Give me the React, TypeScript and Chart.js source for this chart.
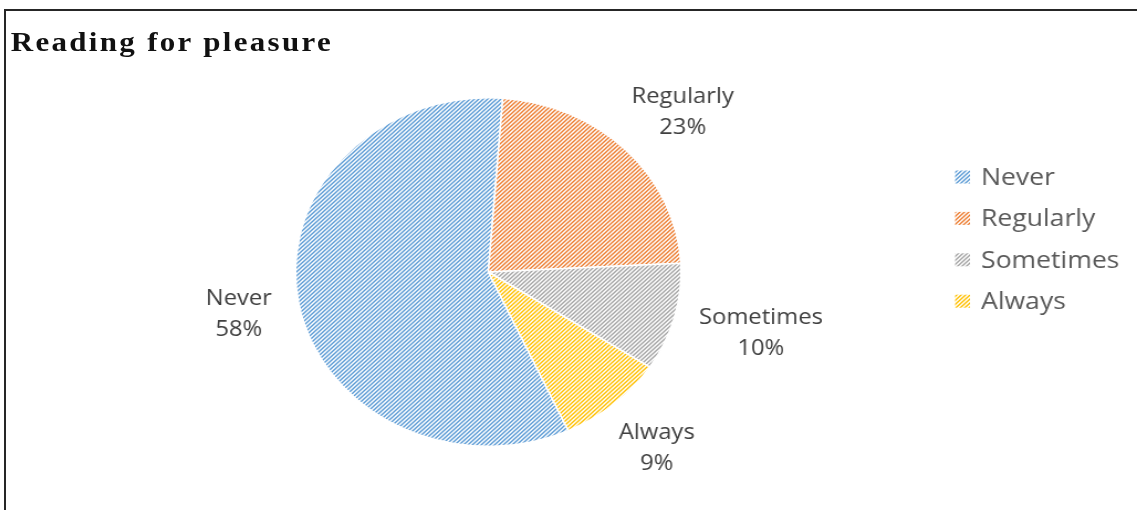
import React, { useEffect, useRef } from "react";
import { Chart, registerables } from "chart.js";

Chart.register(...registerables);

// ---- data ----
const chartTitle = "Reading for pleasure";
const categories = ["Never", "Regularly", "Sometimes", "Always"];
const percentages = [58, 23, 10, 9];
const seriesColors = ["#5B9BD5", "#ED7D31", "#A5A5A5", "#FFC000"];

// ---- layout (internal canvas units; the whole picture is stretched horizontally) ----
const PAGE_W = 1137;
const PAGE_H = 510;
const W = 1028;
const H = 510;
const STRETCH = PAGE_W / W;

function makeHatch(color: string): CanvasPattern | string {
  const tile = document.createElement("canvas");
  tile.width = 4;
  tile.height = 4;
  const c = tile.getContext("2d");
  if (!c) return color;
  c.fillStyle = "#ffffff";
  c.fillRect(0, 0, 4, 4);
  c.strokeStyle = color;
  c.lineWidth = 1.4;
  c.beginPath();
  c.moveTo(-1, 5);
  c.lineTo(5, -1);
  c.moveTo(-1, 1);
  c.lineTo(1, -1);
  c.moveTo(3, 5);
  c.lineTo(5, 3);
  c.stroke();
  const host = document.createElement("canvas").getContext("2d");
  const p = host ? host.createPattern(tile, "repeat") : null;
  return p || color;
}

export default function App() {
  const canvasRef = useRef<HTMLCanvasElement | null>(null);

  useEffect(() => {
    document.body.style.margin = "0";
    const canvas = canvasRef.current;
    if (!canvas) return;
    const patterns = seriesColors.map((c) => makeHatch(c));

    const labelPlugin = {
      id: "outsideLabels",
      afterDatasetsDraw(chart: any) {
        const ctx = chart.ctx as CanvasRenderingContext2D;
        const meta = chart.getDatasetMeta(0);
        const data = chart.data.datasets[0].data as number[];
        const total = data.reduce((a, b) => a + b, 0);
        ctx.save();
        ctx.font = '21.5px "Open Sans"';
        ctx.fillStyle = "#404040";
        ctx.textAlign = "center";
        ctx.textBaseline = "alphabetic";
        const pad = 25;
        const lh = 31;
        meta.data.forEach((arc: any, i: number) => {
          const { x, y, startAngle, endAngle, outerRadius } = arc.getProps(
            ["x", "y", "startAngle", "endAngle", "outerRadius"],
            true
          );
          const mid = (startAngle + endAngle) / 2;
          const cos = Math.cos(mid);
          const sin = Math.sin(mid);
          const lines = [
            String(chart.data.labels[i]),
            Math.round((data[i] / total) * 100) + "%",
          ];
          const w = Math.max(...lines.map((l) => ctx.measureText(l).width));
          const h = lh * 2;
          const cx = x + (outerRadius + pad) * cos + (w / 2) * cos;
          const cy = y + (outerRadius + pad) * sin + (h / 2) * sin;
          lines.forEach((l, k) => {
            ctx.fillText(l, cx, cy + (k - 0.5) * lh + 7.7);
          });
        });
        ctx.restore();
      },
    };

    const legendPlugin = {
      id: "sideLegend",
      afterDraw(chart: any) {
        const ctx = chart.ctx as CanvasRenderingContext2D;
        const ds = chart.data.datasets[0];
        ctx.save();
        ctx.font = '24px "Open Sans"';
        ctx.textAlign = "left";
        ctx.textBaseline = "alphabetic";
        const boxX = 863.5;
        const textX = 887;
        const base0 = 185;
        const step = 41.4;
        (chart.data.labels as string[]).forEach((lab, i) => {
          const by = base0 + i * step;
          ctx.fillStyle = ds.backgroundColor[i];
          ctx.fillRect(boxX, by - 14.5, 13.5, 13);
          ctx.fillStyle = "#595959";
          ctx.fillText(lab, textX, by);
        });
        ctx.restore();
      },
    };

    const chart = new Chart(canvas, {
      type: "pie",
      data: {
        labels: categories,
        datasets: [
          {
            data: percentages,
            backgroundColor: patterns as any,
            borderColor: "#ffffff",
            borderWidth: 1.5,
          },
        ],
      },
      options: {
        responsive: false,
        animation: false,
        rotation: 155.5,
        layout: { padding: { left: 266.5, right: 411.5, top: 97, bottom: 63 } },
        plugins: {
          legend: { display: false },
          tooltip: { enabled: false },
          title: { display: false },
        },
      },
      plugins: [labelPlugin, legendPlugin],
    });
    return () => chart.destroy();
  }, []);

  return (
    <>
      <div
        style={{
          position: "fixed",
          left: 4,
          top: 9,
          width: PAGE_W - 4,
          height: PAGE_H - 9,
          borderTop: "2px solid #262626",
          borderLeft: "2px solid #262626",
          boxSizing: "border-box",
        }}
      />
      <div
        style={{
          position: "fixed",
          left: 0,
          top: 0,
          width: W,
          height: H,
          transform: `scaleX(${STRETCH})`,
          transformOrigin: "0 0",
        }}
      >
        <div
          style={{
            position: "absolute",
            left: 9.7,
            top: 26,
            fontFamily: '"Liberation Serif", serif',
            fontWeight: "bold",
            fontSize: 28,
            lineHeight: "31px",
            letterSpacing: "2.1px",
            color: "#111",
            whiteSpace: "nowrap",
          }}
        >
          {chartTitle}
        </div>
        <canvas
          ref={canvasRef}
          width={W}
          height={H}
          style={{ position: "absolute", left: 0, top: 0, width: W, height: H }}
        />
      </div>
    </>
  );
}
